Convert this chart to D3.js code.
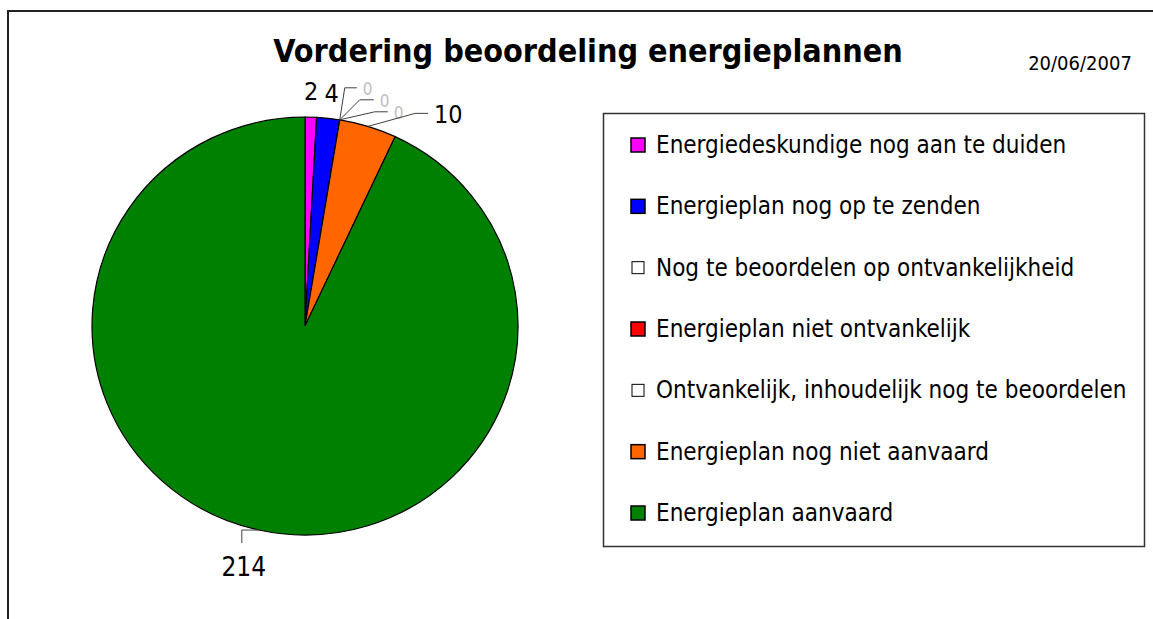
<!DOCTYPE html>
<html>
<head>
<meta charset="utf-8">
<script src="https://cdn.jsdelivr.net/npm/d3@7"></script>
<style>
  body { margin: 0; background: #fff; }
  svg { display: block; font-family: "DejaVu Sans Condensed", "DejaVu Sans", sans-serif; }
</style>
</head>
<body>
<svg id="chart" width="1153" height="619"></svg>
<script>
const categories = [
  "Energiedeskundige nog aan te duiden",
  "Energieplan nog op te zenden",
  "Nog te beoordelen op ontvankelijkheid",
  "Energieplan niet ontvankelijk",
  "Ontvankelijk, inhoudelijk nog te beoordelen",
  "Energieplan nog niet aanvaard",
  "Energieplan aanvaard"
];
const values = [2, 4, 0, 0, 0, 10, 214];
const colors = ["#ff00ff", "#0000ff", "#ffffff", "#ff0000", "#ffffff", "#ff6600", "#008000"];
const title = "Vordering beoordeling energieplannen";
const dateLabel = "20/06/2007";

const svg = d3.select('#chart');

// outer frame (cropped at the right and bottom)
svg.append('path')
  .attr('d', 'M8,619 V11 H1153')
  .attr('fill', 'none')
  .attr('stroke', '#222')
  .attr('stroke-width', 2);

svg.append('text')
  .attr('x', 588).attr('y', 62)
  .attr('text-anchor', 'middle')
  .attr('font-weight', 'bold')
  .attr('font-size', 32)
  .text(title);

svg.append('text')
  .attr('x', 1080).attr('y', 70)
  .attr('text-anchor', 'middle')
  .attr('font-size', 20)
  .text(dateLabel);

// pie
const cx = 305, cy = 326, rx = 213, ry = 209;
const pie = d3.pie().sort(null).value(d => d)(values);
const arc = d3.arc().innerRadius(0).outerRadius(rx);

const g = svg.append('g').attr('transform', `translate(${cx},${cy}) scale(1,${ry / rx})`);
g.selectAll('path.slice')
  .data(pie.filter(d => d.value > 0))
  .enter().append('path')
  .attr('class', 'slice')
  .attr('d', arc)
  .attr('fill', d => colors[d.index])
  .attr('stroke', '#000')
  .attr('stroke-width', 1.2)
  .attr('vector-effect', 'non-scaling-stroke');

// point on the pie edge at an angle
const edge = (a, extra = 0) => [cx + (rx + extra) * Math.sin(a), cy - (ry + extra) * Math.cos(a)];
const mid = d => (d.startAngle + d.endAngle) / 2;

// label layout: elbow = offset of the bend from the edge point, run = length after the bend
const labelLayout = [
  { plain: true, dx: 0, dy: -3 },
  { plain: true, dx: 2, dy: -2 },
  { elbow: [5, -32], run: 12, size: 17, color: '#c0c0c0' },
  { elbow: [20, -20], run: 14, size: 17, color: '#c0c0c0' },
  { elbow: [35, -8], run: 13, size: 17, color: '#c0c0c0' },
  { elbow: [47, -13], run: 13, size: 25, color: '#000' },
  { elbow: [-17, 0], run: 13, down: true, size: 26, color: '#000' }
];

pie.forEach((d, i) => {
  const L = labelLayout[i];
  const a = mid(d);
  if (L.plain) {
    const p = edge(a, 14);
    svg.append('text')
      .attr('x', p[0] + L.dx).attr('y', p[1] + L.dy)
      .attr('text-anchor', 'middle')
      .attr('font-size', 25)
      .text(d.value);
    return;
  }
  const p0 = edge(a);
  const p1 = [p0[0] + L.elbow[0], p0[1] + L.elbow[1]];
  const p2 = L.down ? [p1[0], p1[1] + L.run] : [p1[0] + L.run, p1[1]];
  svg.append('path')
    .attr('d', d3.line()([p0, p1, p2]))
    .attr('fill', 'none')
    .attr('stroke', '#404040')
    .attr('stroke-width', 1);
  const t = svg.append('text')
    .attr('font-size', L.size)
    .attr('fill', L.color)
    .text(d.value);
  if (L.down) {
    t.attr('x', p2[0] + 2).attr('y', p2[1] + 33).attr('text-anchor', 'middle');
  } else {
    t.attr('x', p2[0] + 6).attr('y', p2[1] + L.size * 0.4);
  }
});

// legend
svg.append('rect')
  .attr('x', 603.5).attr('y', 113.5)
  .attr('width', 541).attr('height', 433)
  .attr('fill', '#fff')
  .attr('stroke', '#333')
  .attr('stroke-width', 1.5);

const ly = d3.scalePoint().domain(categories).range([145, 513]);
const item = svg.selectAll('g.legend-item')
  .data(categories)
  .enter().append('g')
  .attr('class', 'legend-item')
  .attr('transform', d => `translate(631,${ly(d)})`);

const isBlank = i => colors[i] === '#ffffff';
item.append('rect')
  .attr('x', (d, i) => isBlank(i) ? 1 : 0)
  .attr('y', (d, i) => isBlank(i) ? -6 : -7)
  .attr('width', (d, i) => isBlank(i) ? 12 : 14)
  .attr('height', (d, i) => isBlank(i) ? 12 : 14)
  .attr('fill', (d, i) => colors[i])
  .attr('stroke', '#000')
  .attr('stroke-width', (d, i) => isBlank(i) ? 1 : 1.5);

item.append('text')
  .attr('x', 25).attr('y', 8)
  .attr('font-size', 24)
  .text(d => d);
</script>
</body>
</html>
